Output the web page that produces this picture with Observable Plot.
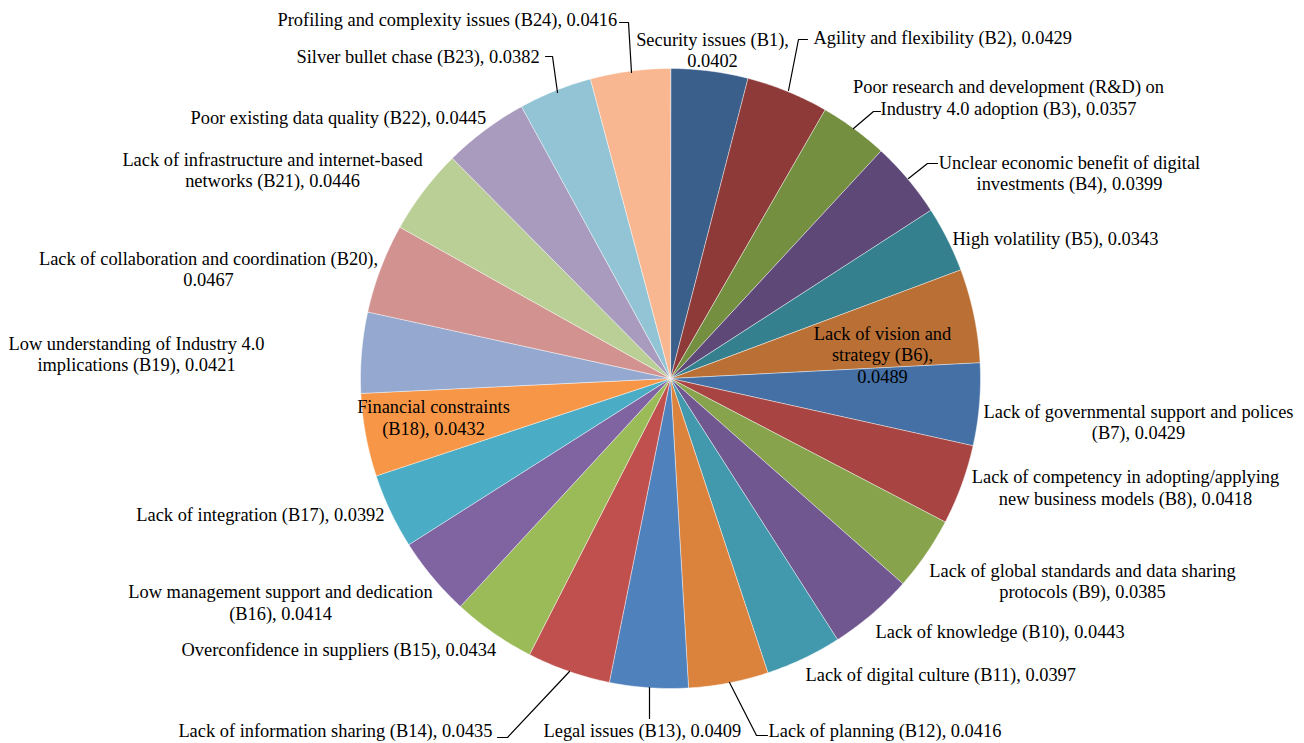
<!DOCTYPE html>
<html><head><meta charset="utf-8">
<script src="https://cdn.jsdelivr.net/npm/d3@7"></script>
<script src="https://cdn.jsdelivr.net/npm/@observablehq/plot@0.6"></script>
<style>body{margin:0;background:#fff}#chart svg{display:block}#chart svg text{font-family:"Liberation Serif",serif}</style>
</head><body><div id="chart"></div>
<script>
// ---- data ----
const codes = ["B1","B2","B3","B4","B5","B6","B7","B8","B9","B10","B11","B12","B13","B14","B15","B16","B17","B18","B19","B20","B21","B22","B23","B24"];
const categories = [
  "Security issues","Agility and flexibility","Poor research and development (R&D) on Industry 4.0 adoption",
  "Unclear economic benefit of digital investments","High volatility","Lack of vision and strategy",
  "Lack of governmental support and polices","Lack of competency in adopting/applying new business models",
  "Lack of global standards and data sharing protocols","Lack of knowledge","Lack of digital culture",
  "Lack of planning","Legal issues","Lack of information sharing","Overconfidence in suppliers",
  "Low management support and dedication","Lack of integration","Financial constraints",
  "Low understanding of Industry 4.0 implications","Lack of collaboration and coordination",
  "Lack of infrastructure and internet-based networks","Poor existing data quality","Silver bullet chase",
  "Profiling and complexity issues"
];
const values = [0.0402,0.0429,0.0357,0.0399,0.0343,0.0489,0.0429,0.0418,0.0385,0.0443,0.0397,0.0416,
                0.0409,0.0435,0.0434,0.0414,0.0392,0.0432,0.0421,0.0467,0.0446,0.0445,0.0382,0.0416];
// label text as displayed (with line breaks)
const labelTexts = [
  "Security issues (B1),\n0.0402",
  "Agility and flexibility (B2), 0.0429",
  "Poor research and development (R&D) on\nIndustry 4.0 adoption (B3), 0.0357",
  "Unclear economic benefit of digital\ninvestments (B4), 0.0399",
  "High volatility (B5), 0.0343",
  "Lack of vision and\nstrategy (B6),\n0.0489",
  "Lack of governmental support and polices\n(B7), 0.0429",
  "Lack of competency in adopting/applying\nnew business models (B8), 0.0418",
  "Lack of global standards and data sharing\nprotocols (B9), 0.0385",
  "Lack of knowledge (B10), 0.0443",
  "Lack of digital culture (B11), 0.0397",
  "Lack of planning (B12), 0.0416",
  "Legal issues (B13), 0.0409",
  "Lack of information sharing (B14), 0.0435",
  "Overconfidence in suppliers (B15), 0.0434",
  "Low management support and dedication\n(B16), 0.0414",
  "Lack of integration (B17), 0.0392",
  "Financial constraints\n(B18), 0.0432",
  "Low understanding of Industry 4.0\nimplications (B19), 0.0421",
  "Lack of collaboration and coordination (B20),\n0.0467",
  "Lack of infrastructure and internet-based\nnetworks (B21), 0.0446",
  "Poor existing data quality (B22), 0.0445",
  "Silver bullet chase (B23), 0.0382",
  "Profiling and complexity issues (B24), 0.0416"
];

// ---- styles / layout (kept separate from data) ----
const colors = ["#3A5F8B","#8E3A38","#758F40","#5E4878","#35808F","#BA7035","#4470A5","#A84442",
                "#87A34C","#71578F","#4298AC","#DB823D","#4F81BD","#C0504D","#9BBB59","#8064A2",
                "#4BACC6","#F79646","#95A9D0","#D19290","#BACF95","#A99BBE","#93C4D5","#F8B790"];
const W = 1304, H = 743, CX = 670, CY = 378, R = 310;
const FONT = "Liberation Serif, serif";
const labelX = [712,813,1008,1069,952,882,1138,1125,1082,875,805,768,543,492,181,280,384,433,136,208,272,190,296,277];
const labelY = [49,37,96.5,172,238,354,421,486.5,580,631,674,730,730,730,649,601.5,514,416.5,353,268,169,117,56,19];
const labelAnchor = ["middle","start","middle","middle","start","middle","middle","middle","middle","start","start","start",
                     "start","end","start","middle","end","middle","middle","middle","middle","start","start","start"];
const leaders = {
  B2: [[807,39],[798,39],[788,90]],
  B3: [[880,111],[873,111],[853,128]],
  B4: [[937,163],[927,163],[908,178]],
  B12: [[767,735],[756,735],[729,682]],
  B13: [[649,718],[649,687]],
  B14: [[497,737],[507,737],[569,671]],
  B23: [[545,56],[552,56],[557,92]],
  B24: [[619,22],[628,22],[631,72]]
};

// ---- build slice polygons via d3.pie ----
const rows = codes.map((c,i)=>({code:c, name:categories[i], value:values[i], color:colors[i]}));
const arcs = d3.pie().sort(null).value(d=>d.value)(rows);
const slicePts = [];
arcs.forEach(a=>{
  const id = a.data.code;
  slicePts.push({id, color:a.data.color, x:CX, y:CY});
  const n = Math.max(2, Math.ceil((a.endAngle-a.startAngle)/(Math.PI/360)));
  for (let k=0;k<=n;k++){
    const t = a.startAngle + (a.endAngle-a.startAngle)*k/n;
    slicePts.push({id, color:a.data.color, x:CX+R*Math.sin(t), y:CY-R*Math.cos(t)});
  }
});
const leaderPts = [];
Object.entries(leaders).forEach(([id,pts])=>pts.forEach(([x,y])=>leaderPts.push({id,x,y})));
const labels = labelTexts.map((t,i)=>({text:t, x:labelX[i], y:labelY[i], anchor:labelAnchor[i]}));

const textMark = (anchor) => Plot.text(labels.filter(d=>d.anchor===anchor), {
  x:"x", y:"y", text:"text", textAnchor:anchor, lineAnchor:"middle", lineHeight:1.17,
  fontSize:18.4, fontFamily:FONT, fill:"#000"
});

const chart = Plot.plot({
  width: W, height: H, margin: 0,
  x: {domain:[0,W], range:[0,W], axis:null},
  y: {domain:[0,H], range:[0,H], axis:null},
  color: {type:"identity"},
  style: {fontFamily:FONT, background:"#fff"},
  marks: [
    Plot.line(slicePts, {x:"x", y:"y", z:"id", fill:"color", stroke:"#fff", strokeWidth:0.8, strokeOpacity:0.6, curve:"linear-closed"}),
    Plot.line(leaderPts, {x:"x", y:"y", z:"id", stroke:"#000", strokeWidth:1.2}),
    textMark("start"), textMark("middle"), textMark("end")
  ]
});
document.getElementById("chart").appendChild(chart);
</script>
</body></html>
